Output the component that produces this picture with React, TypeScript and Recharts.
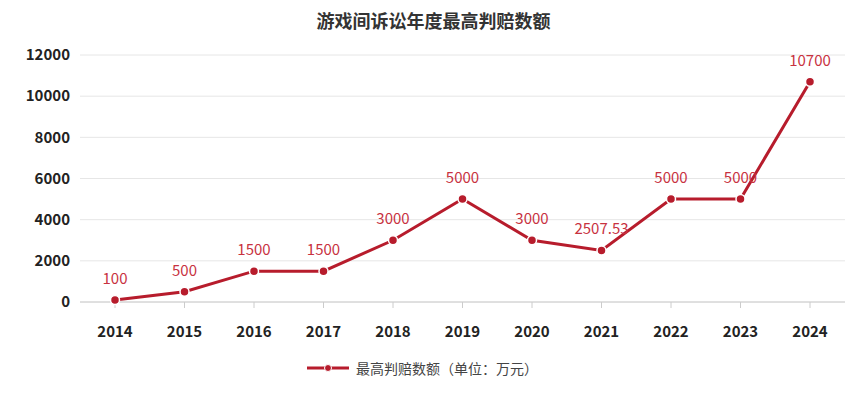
import * as React from 'react';
import { LineChart, Line, XAxis, YAxis, CartesianGrid, Legend, LabelList } from 'recharts';

const years = ['2014', '2015', '2016', '2017', '2018', '2019', '2020', '2021', '2022', '2023', '2024'];
const maxAward = [100, 500, 1500, 1500, 3000, 5000, 3000, 2507.53, 5000, 5000, 10700];
const yTicks = [0, 2000, 4000, 6000, 8000, 10000, 12000];

const seriesName = '最高判赔数额（单位：万元）';
const title = '游戏间诉讼年度最高判赔数额';
const RED = '#b71c2c';
const FONT = '"Noto Sans CJK SC", "Noto Sans", sans-serif';

const data = years.map((year, i) => ({ year, value: maxAward[i] }));

const LegendContent = () => (
  <div
    style={{
      height: 28,
      display: 'flex',
      alignItems: 'center',
      justifyContent: 'center',
      fontFamily: FONT,
      fontSize: 14,
      color: '#444',
    }}
  >
    <svg width={42} height={10} style={{ marginRight: 7 }}>
      <line x1={0} y1={5} x2={42} y2={5} stroke={RED} strokeWidth={3} />
      <circle cx={21} cy={5} r={3.5} fill={RED} stroke="#fff" strokeWidth={1} />
    </svg>
    <span>{seriesName}</span>
  </div>
);

export default function App() {
  return (
    <div style={{ position: 'absolute', left: 0, top: 0, width: 867, height: 394, background: '#fff' }}>
      <div
        style={{
          position: 'absolute',
          top: 7,
          left: 0,
          width: 867,
          textAlign: 'center',
          fontFamily: FONT,
          fontWeight: 700,
          fontSize: 18,
          color: '#333',
        }}
      >
        {title}
      </div>
      <LineChart width={867} height={394} data={data} margin={{ top: 55, right: 22, left: 0, bottom: 12 }}>
        <CartesianGrid vertical={false} stroke="#e6e6e6" />
        <XAxis
          dataKey="year"
          height={52}
          padding={{ left: 35, right: 35 }}
          tickLine={{ stroke: '#ccc' }}
          axisLine={{ stroke: '#ccc' }}
          tickMargin={18}
          tick={{ fill: '#222', fontSize: 15, fontWeight: 700, fontFamily: FONT }}
        />
        <YAxis
          width={80}
          ticks={yTicks}
          domain={[0, 12000]}
          axisLine={false}
          tickLine={false}
          tickMargin={4}
          tick={{ fill: '#222', fontSize: 15, fontWeight: 700, fontFamily: FONT }}
        />
        <Legend verticalAlign="bottom" content={<LegendContent />} />
        <Line
          type="linear"
          dataKey="value"
          name={seriesName}
          stroke={RED}
          strokeWidth={3}
          dot={{ r: 4.5, fill: RED, stroke: '#fff', strokeWidth: 1.5 }}
          isAnimationActive={false}
        >
          <LabelList dataKey="value" position="top" offset={16} fill="#c8323f" fontSize={15} fontFamily={FONT} />
        </Line>
      </LineChart>
    </div>
  );
}
